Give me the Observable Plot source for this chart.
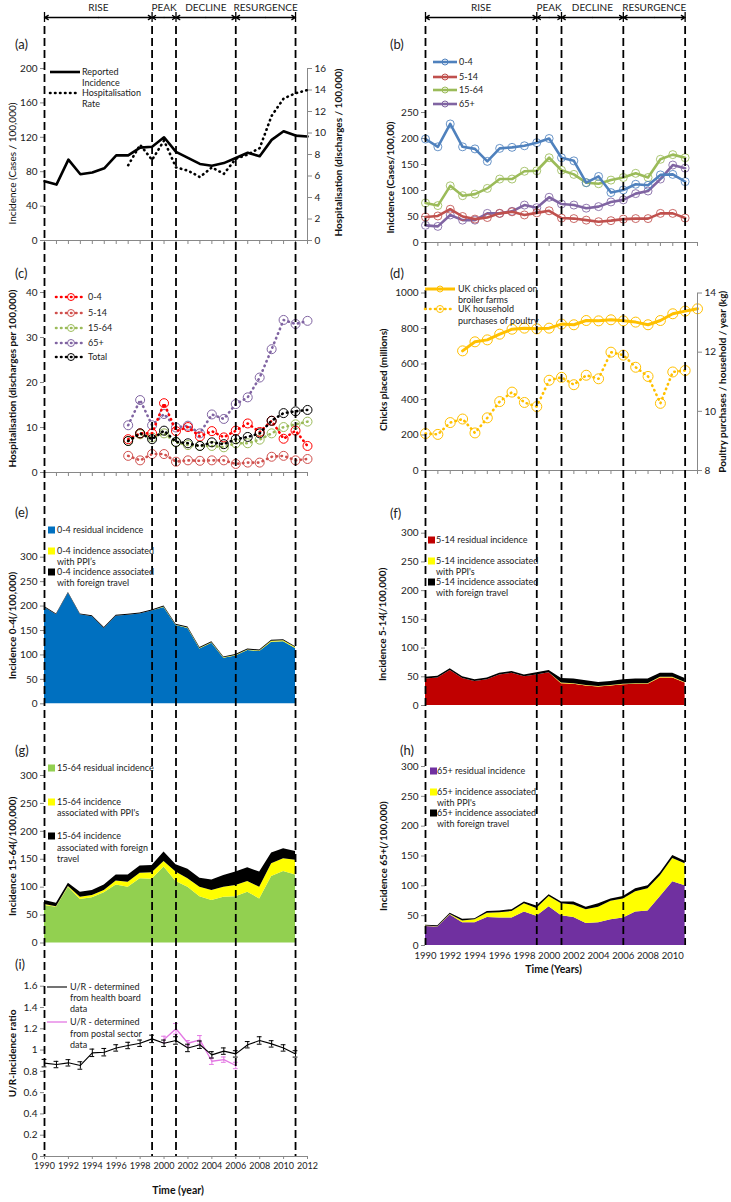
<!DOCTYPE html>
<html><head><meta charset="utf-8">
<script src="https://cdn.jsdelivr.net/npm/d3@7"></script>
<script src="https://cdn.jsdelivr.net/npm/@observablehq/plot@0.6"></script>
<style>
body{margin:0;background:#fff;}
#page{position:relative;width:731px;height:1202px;overflow:hidden;font-family:Lato,sans-serif;background:#fff;}
.layer{position:absolute;}
.layer svg{display:block;max-width:none;}
</style></head><body><div id="page"></div>
<script>
// ---------------- DATA ----------------
const phaseNames = ["RISE","PEAK","DECLINE","RESURGENCE"];
const phaseStart = [1990,1999,2001,2006];
const phaseEnd   = [1999,2001,2006,2011];
const phaseBounds = [1990,1999,2001,2006,2011];

const yearTicks = [1990,1991,1992,1993,1994,1995,1996,1997,1998,1999,2000,2001,2002,2003,2004,2005,2006,2007,2008,2009,2010,2011,2012];
const yearLabelTicksI = [1990,1992,1994,1996,1998,2000,2002,2004,2006,2008,2010,2012];
const yearLabelTicksH = [1990,1992,1994,1996,1998,2000,2002,2004,2006,2008,2010];

// (a)
const yearsA = [1990,1991,1992,1993,1994,1995,1996,1997,1998,1999,2000,2001,2002,2003,2004,2005,2006,2007,2008,2009,2010,2011,2012];
const reportedIncidence = [69,65,94,77,79,84,99,99,108,109,120,103,96,89,87,90,96,102,98,117,127,122,121];
const hospYears = [1997,1998,1999,2000,2001,2002,2003,2004,2005,2006,2007,2008,2009,2010,2011,2012];
const hospitalisationRate = [7.0,8.9,7.5,9.3,6.8,6.5,5.9,6.8,6.2,7.6,8.0,8.6,11.6,13.2,13.7,14.0];

// (b) age-specific incidence, 1990-2011
const yearsB = [1990,1991,1992,1993,1994,1995,1996,1997,1998,1999,2000,2001,2002,2003,2004,2005,2006,2007,2008,2009,2010,2011];
const inc0to4   = [199,184,228,184,180,156,181,183,186,192,200,163,157,115,127,96,101,112,110,130,131,117];
const inc5to14  = [49,51,64,50,45,48,56,59,53,57,61,47,46,43,40,42,45,46,46,56,56,47];
const inc15to64 = [76,71,109,90,93,104,122,122,137,138,163,139,131,115,113,120,125,133,125,160,169,163];
const inc65plus = [33,31,53,43,43,56,56,60,72,67,87,74,72,66,69,78,82,94,99,122,149,143];

// (c) hospitalisation by age, 1997-2012
const hosp0to4   = [7.4,8.7,8.7,15.4,9.2,10.1,8.0,9.2,7.8,9.3,10.9,9.0,11.5,7.5,9.3,5.9];
const hosp5to14  = [3.7,2.7,4.1,4.1,2.4,2.7,2.6,2.7,2.7,1.9,2.2,2.2,3.5,3.7,2.7,3.0];
const hosp15to64 = [7.0,8.5,7.8,8.7,6.7,6.1,5.9,5.9,5.6,6.5,6.5,7.3,8.7,10.1,10.7,11.3];
const hosp65plus = [10.5,16.1,10.5,13.0,10.0,10.4,8.7,12.9,11.9,15.2,16.7,21.1,27.4,33.9,33.0,33.7];
const hospTotal  = [7.0,8.7,7.4,9.3,6.8,6.5,5.9,6.7,6.3,7.4,7.9,8.7,11.5,13.2,13.6,13.9];

// (d)
const chicksYears = [1993,1994,1995,1996,1997,1998,1999,2000,2001,2002,2003,2004,2005,2006,2007,2008,2009,2010,2011,2012];
const chicksPlaced = [674,725,736,768,796,802,798,802,825,821,845,843,849,843,836,821,845,883,898,911];
const purchaseYears = [1990,1991,1992,1993,1994,1995,1996,1997,1998,1999,2000,2001,2002,2003,2004,2005,2006,2007,2008,2009,2010,2011];
const poultryPurchases = [9.25,9.22,9.62,9.74,9.27,9.78,10.33,10.65,10.30,10.16,11.05,11.15,10.90,11.22,11.10,12.00,11.90,11.49,11.18,10.27,11.33,11.38];

// (e)-(h) stacked components, 1990-2011
const residual0to4 = [197,182,226,182,178,154,179,181,184,190,197,160,154,112,124,93,98,109,107,126,127,113];
const ppi0to4      = [0,0,0,0,0,0,0,0,0,0,1,1,1,1,1,1,1,1,1,2,2,2];
const travel0to4   = [2,2,2,2,2,2,2,2,2,2,2,2,2,2,2,2,2,2,2,2,2,2];

const residual5to14 = [46,48,61,47,42,45,53,56,50,53,57,38,37,34,32,34,36,37,37,48,48,39];
const ppi5to14      = [0,0,0,0,0,0,0,0,0,0,0,1,1,1,1,1,1,1,1,1,1,1];
const travel5to14   = [3,3,3,3,3,3,3,3,3,4,4,8,8,8,7,7,8,8,8,7,7,7];

const residual15to64 = [67,64,100,78,81,90,104,100,115,114,136,110,100,83,76,82,83,91,79,119,128,122];
const ppi15to64      = [2,1,1,4,4,4,7,9,10,12,10,17,15,17,18,18,20,19,21,23,23,26];
const travel15to64   = [7,6,6,9,9,10,11,13,13,13,17,13,17,16,19,21,24,25,27,19,18,16];

const residual65plus = [32,31,51,38,38,47,46,46,56,49,65,50,47,37,38,43,46,56,58,82,107,100];
const ppi65plus      = [0.5,0.5,1,3,5,7,9,11,14,13,17,20,21,23,26,31,32,34,37,35,39,37];
const travel65plus   = [1.5,1.5,2,3,2,3,3,3,3,4,3,3,5,4,6,4,4,5,5,5,5,4];

// (i) U/R incidence ratio
const urYearsHB = [1990,1991,1992,1993,1994,1995,1996,1997,1998,1999,2000,2001,2002,2003,2004,2005,2006,2007,2008,2009,2010,2011];
const urHealthBoard = [0.877,0.864,0.880,0.855,0.974,0.980,1.020,1.043,1.064,1.105,1.064,1.090,1.020,1.050,0.955,0.990,0.964,1.050,1.090,1.058,1.020,0.964];
const errHealthBoard = [0.035,0.03,0.03,0.035,0.035,0.035,0.03,0.03,0.03,0.035,0.03,0.035,0.035,0.035,0.03,0.03,0.03,0.03,0.035,0.03,0.03,0.03];
const urYearsPS = [2000,2001,2002,2003,2004,2005,2006];
const urPostal = [1.100,1.200,1.064,1.096,0.895,0.910,0.855];
const errPostal = [0.03,0.05,0.025,0.04,0.03,0.025,0.03];

// tick values
const ticksA = [0,40,80,120,160,200];
const ticksAHosp = [0,2,4,6,8,10,12,14,16];
const ticksB = [0,50,100,150,200,250];
const ticksC = [0,10,20,30,40];
const ticksDChicks = [0,200,400,600,800,1000];
const ticksDPurch = [8,10,12,14];
const ticksArea = [0,50,100,150,200,250,300];
const ticksI = [0,0.2,0.4,0.6,0.8,1,1.2,1.4,1.6];

// ---------------- HELPERS ----------------
const page = document.getElementById("page");
function place(node, left, top, z) {
  const d = document.createElement("div");
  d.className = "layer";
  d.style.left = left + "px"; d.style.top = top + "px"; d.style.zIndex = z || 1;
  d.appendChild(node); page.appendChild(d);
}
const rows = (xs, ys) => xs.map((x, i) => ({year: x, value: ys[i]}));
const FONT = "Lato, sans-serif";
const baseStyle = {background: "transparent", fontFamily: FONT, fontSize: "10px", color: "#222", overflow: "visible"};
const LEFT = {left: 0, width: 365, marginLeft: 44, marginRight: 58};
const RIGHT = {left: 365, width: 366, marginLeft: 60, marginRight: 34};
const XDOM = [1990, 2012];

function yAxis(ticks, opts) {
  return Plot.axisY(Object.assign({ticks, tickFormat: d => String(d), tickSize: 4, tickPadding: 3, label: null,
    stroke: "#888", fill: "#222", fontSize: 10}, opts || {}));
}
function yTitle(s, anchor, dx, dy, weight) {
  return Plot.text([s], {text: d => d, frameAnchor: anchor, rotate: -90, dx, dy: dy || 0,
    textAnchor: "middle", lineAnchor: "middle",
    fontWeight: weight || "bold", fontSize: 10, fill: "#111"});
}
function xTickAxis() {
  return [Plot.ruleY([0], {stroke: "#888"}),
    Plot.axisX({ticks: yearTicks, tickFormat: () => "", tickSize: 4, stroke: "#888", label: null})];
}
function mk(col, top, height, mt, mb, y, marks, xAxisOff) {
  const p = Plot.plot({
    width: col.width, height, marginLeft: col.marginLeft, marginRight: col.marginRight,
    marginTop: mt, marginBottom: mb, style: baseStyle,
    x: xAxisOff ? {domain: XDOM, axis: null} : {domain: XDOM, label: null},
    y: Object.assign({label: null}, y), marks
  });
  place(p, col.left, top, 1);
}
const dotted = (color, w) => ({stroke: color, strokeWidth: w || 2.5, strokeDasharray: "0.5,4.5", strokeLinecap: "round"});

// ---------------- HEADERS & PHASE LINES ----------------
const phases = phaseNames.map((n, i) => ({name: n, start: phaseStart[i], end: phaseEnd[i], mid: (phaseStart[i] + phaseEnd[i]) / 2}));
[LEFT, RIGHT].forEach((col, ci) => {
  const header = Plot.plot({
    width: col.width, height: 27, marginLeft: col.marginLeft, marginRight: col.marginRight,
    marginTop: 7, marginBottom: 10, style: baseStyle,
    x: {domain: XDOM, axis: null}, y: {domain: [0, 1], axis: null},
    marks: [
      Plot.text(phases, {x: "mid", y: 1, text: "name", fontSize: 10, fill: "#222"}),
      Plot.arrow(phases, {x1: "mid", x2: "start", y1: 0, y2: 0, headLength: 5, strokeWidth: 1.3, stroke: "#000"}),
      Plot.arrow(phases, {x1: "mid", x2: "end", y1: 0, y2: 0, headLength: 5, strokeWidth: 1.3, stroke: "#000"}),
      Plot.ruleX(phaseBounds, {y1: -0.5, y2: 0.5, stroke: "#000", strokeWidth: 1.3})
    ]
  });
  place(header, col.left, 0, 2);
  const bottom = ci === 0 ? 1156 : 945;
  const lines = Plot.plot({
    width: col.width, height: bottom - 26, marginLeft: col.marginLeft, marginRight: col.marginRight,
    marginTop: 0, marginBottom: 0, style: baseStyle,
    x: {domain: XDOM, axis: null},
    marks: [Plot.ruleX(phaseBounds, {stroke: "#000", strokeWidth: 1.8, strokeDasharray: "8,4"})]
  });
  place(lines, col.left, 26, 2);
});

// ---------------- (a) ----------------
mk(LEFT, 50, 200, 18, 10, {domain: [0, 200]}, [
  ...xTickAxis(), yAxis(ticksA),
  Plot.line(rows(yearsA, reportedIncidence), {x: "year", y: "value", stroke: "#000", strokeWidth: 2.6}),
  yTitle("Incidence (Cases / 100,000)", "left", -32, 9, "normal")
]);
mk(LEFT, 50, 200, 18, 10, {domain: [0, 16]}, [
  Plot.ruleX([2012], {stroke: "#888"}),
  yAxis(ticksAHosp, {anchor: "right"}),
  Plot.line(rows(hospYears, hospitalisationRate), {x: "year", y: "value", ...dotted("#000", 2.6)}),
  yTitle("Hospitalisation (discharges / 100,000)", "right", 31, -2)
], true);

// ---------------- (b) ----------------
const bSeries = [
  {name: "65+", values: inc65plus, color: "#8064A2"},
  {name: "5-14", values: inc5to14, color: "#C0504D"},
  {name: "15-64", values: inc15to64, color: "#9BBB59"},
  {name: "0-4", values: inc0to4, color: "#4F81BD"}
];
const bMarks = [...xTickAxis(), yAxis(ticksB)];
bSeries.forEach(s => {
  const d = rows(yearsB, s.values);
  bMarks.push(Plot.line(d, {x: "year", y: "value", stroke: s.color, strokeWidth: 2.6}));
  bMarks.push(Plot.dot(d, {x: "year", y: "value", r: 4, stroke: s.color, strokeWidth: 1, fill: "none", strokeOpacity: 0.85}));
});
bMarks.push(yTitle("Inicdence (Cases/100,00)", "left", -35, 0));
mk(RIGHT, 100, 150, 12, 8, {domain: [0, 250]}, bMarks);

// ---------------- (c) ----------------
const cSeries = [
  {name: "65+", values: hosp65plus, color: "#8064A2"},
  {name: "15-64", values: hosp15to64, color: "#9BBB59"},
  {name: "5-14", values: hosp5to14, color: "#D0504D"},
  {name: "0-4", values: hosp0to4, color: "#FF0000"},
  {name: "Total", values: hospTotal, color: "#000000"}
];
const cMarks = [...xTickAxis(), yAxis(ticksC)];
cSeries.forEach(s => {
  const d = rows(hospYears, s.values);
  cMarks.push(Plot.line(d, {x: "year", y: "value", ...dotted(s.color, 2.6)}));
  cMarks.push(Plot.dot(d, {x: "year", y: "value", r: 4.5, stroke: s.color, strokeWidth: 1, fill: "none"}));
});
cMarks.push(yTitle("Hospitalisation (discharges per 100,000)", "left", -32, -4));
mk(LEFT, 280, 200, 12, 8, {domain: [0, 40]}, cMarks);

// ---------------- (d) ----------------
const gold = "#FFC000";
mk(RIGHT, 280, 200, 12.5, 10, {domain: [0, 1000]}, [
  ...xTickAxis(), yAxis(ticksDChicks),
  Plot.line(rows(chicksYears, chicksPlaced), {x: "year", y: "value", stroke: gold, strokeWidth: 3}),
  Plot.dot(rows(chicksYears, chicksPlaced), {x: "year", y: "value", r: 5, stroke: gold, strokeWidth: 1, fill: "none"}),
  yTitle("Chicks placed (millions)", "left", -42, -2)
]);
mk(RIGHT, 280, 200, 12.5, 10, {domain: [8, 14]}, [
  Plot.ruleX([2012], {stroke: "#888"}),
  yAxis(ticksDPurch, {anchor: "right"}),
  Plot.line(rows(purchaseYears, poultryPurchases), {x: "year", y: "value", ...dotted(gold, 2.6)}),
  Plot.dot(rows(purchaseYears, poultryPurchases), {x: "year", y: "value", r: 5, stroke: gold, strokeWidth: 1, fill: "none"}),
  yTitle("Poultry purchases / household / year (kg)", "right", 25, 0)
], true);

// ---------------- (e)-(h) stacked areas ----------------
function areaMarks(residual, ppi, travel) {
  const data = [];
  yearsB.forEach((y, i) => {
    data.push({year: y, part: "residual", value: residual[i]});
    data.push({year: y, part: "ppi", value: ppi[i]});
    data.push({year: y, part: "travel", value: travel[i]});
  });
  return Plot.areaY(data, {x: "year", y: "value", fill: "part", order: ["residual", "ppi", "travel"]});
}
function areaPlot(col, top, height, mt, mb, residual, ppi, travel, color, title, tdx, tdy, extra) {
  const p = Plot.plot({
    width: col.width, height, marginLeft: col.marginLeft, marginRight: col.marginRight,
    marginTop: mt, marginBottom: mb, style: baseStyle,
    x: extra ? {domain: XDOM, label: null} : {domain: XDOM, axis: null},
    y: {domain: [0, 300], label: null},
    color: {domain: ["residual", "ppi", "travel"], range: [color, "#FFFF00", "#000000"]},
    marks: [areaMarks(residual, ppi, travel), yAxis(ticksArea), yTitle(title, "left", tdx, tdy)].concat(extra || [])
  });
  place(p, col.left, top, 1);
}
areaPlot(LEFT, 540, 170, 16.7, 6.7, residual0to4, ppi0to4, travel0to4, "#0070C0", "Incidence 0-4(/100,000)", -32, -5);
areaPlot(RIGHT, 520, 195, 12.7, 10, residual5to14, ppi5to14, travel5to14, "#C00000", "Incidence 5-14(/100,000)", -43, 5);
areaPlot(LEFT, 760, 190, 15, 7.5, residual15to64, ppi15to64, travel15to64, "#92D050", "Incidence 15-64(/100,000)", -32, -3);
areaPlot(RIGHT, 755, 230, 11, 40, residual65plus, ppi65plus, travel65plus, "#7030A0", "Incidence 65+(/100,000)", -42, 0, [
  Plot.axisX({ticks: yearLabelTicksH, tickFormat: "d", tickSize: 0, tickPadding: 7, label: null, fill: "#222", fontSize: 9.5}),
  Plot.text(["Time (Years)"], {text: d => d, frameAnchor: "bottom", dy: 27, dx: -8, fontWeight: "bold", fontSize: 10.5, fill: "#111"})
]);

// ---------------- (i) ----------------
const hb = urYearsHB.map((y, i) => ({year: y, value: urHealthBoard[i], err: errHealthBoard[i]}));
const ps = urYearsPS.map((y, i) => ({year: y, value: urPostal[i], err: errPostal[i]}));
const pink = "#E377E3";
function errMarks(d, color) {
  return [
    Plot.ruleX(d, {x: "year", y1: r => r.value - r.err, y2: r => r.value + r.err, stroke: color, strokeWidth: 1}),
    Plot.ruleY(d, {y: r => r.value + r.err, x1: r => r.year - 0.2, x2: r => r.year + 0.2, stroke: color, strokeWidth: 1}),
    Plot.ruleY(d, {y: r => r.value - r.err, x1: r => r.year - 0.2, x2: r => r.year + 0.2, stroke: color, strokeWidth: 1})
  ];
}
mk(LEFT, 975, 227, 10.7, 46, {domain: [0, 1.6]}, [
  Plot.ruleY([0], {stroke: "#888"}),
  Plot.axisX({ticks: yearLabelTicksI, tickFormat: "d", tickSize: 3, tickPadding: 3, stroke: "#888", fill: "#222", label: null, fontSize: 9}),
  yAxis(ticksI),
  Plot.line(ps, {x: "year", y: "value", stroke: pink, strokeWidth: 1.3}),
  ...errMarks(ps, pink),
  Plot.line(hb, {x: "year", y: "value", stroke: "#000", strokeWidth: 1.1}),
  ...errMarks(hb, "#000"),
  yTitle("U/R-incidence ratio", "left", -32, -18),
  Plot.text(["Time (year)"], {text: d => d, frameAnchor: "bottom", dy: 37, dx: 2, fontWeight: "bold", fontSize: 10.5, fill: "#111"})
]);

// ---------------- LEGENDS & PANEL LABELS ----------------
const ov = d3.create("svg").attr("width", 731).attr("height", 1202)
  .style("font-family", FONT).style("overflow", "visible");
function T(x, y, s, size) {
  ov.append("text").attr("x", x).attr("y", y).attr("dy", "0.35em")
    .attr("font-size", size || 9).attr("fill", "#222").text(s);
}
function Ln(x1, x2, y, color, w, dash) {
  const l = ov.append("line").attr("x1", x1).attr("x2", x2).attr("y1", y).attr("y2", y)
    .attr("stroke", color).attr("stroke-width", w);
  if (dash) l.attr("stroke-dasharray", "0.5,4.5").attr("stroke-linecap", "round");
}
function Ci(x, y, r, color) {
  ov.append("circle").attr("cx", x).attr("cy", y).attr("r", r).attr("fill", "none").attr("stroke", color).attr("stroke-width", 1);
}
function Sq(x, y, color) {
  ov.append("rect").attr("x", x).attr("y", y - 3.5).attr("width", 7).attr("height", 7).attr("fill", color);
}
// panel labels
[["(a)", 15, 44], ["(b)", 390, 44], ["(c)", 15, 273], ["(d)", 390, 273], ["(e)", 15, 512],
 ["(f)", 390, 513], ["(g)", 15, 750], ["(h)", 400, 750], ["(i)", 15, 964]].forEach(([s, x, y]) => T(x, y, s, 13));
// (a)
Ln(50, 80, 72, "#000", 2.6); T(82, 72, "Reported"); T(82, 83, "Incidence");
Ln(50, 80, 93, "#000", 2.6, true); T(82, 93, "Hospitalisation"); T(82, 104, "Rate");
// (b)
[["0-4", "#4F81BD", 62], ["5-14", "#C0504D", 77], ["15-64", "#9BBB59", 90], ["65+", "#8064A2", 104]].forEach(([s, c, y]) => {
  Ln(433, 457, y, c, 2.6); Ci(445, y, 3, c); T(459, y, s);
});
// (c)
[["0-4", "#FF0000", 297], ["5-14", "#D0504D", 313], ["15-64", "#9BBB59", 328], ["65+", "#8064A2", 343], ["Total", "#000", 357]].forEach(([s, c, y]) => {
  Ln(56, 82, y, c, 2.6, true); Ci(71, y, 3.5, c); T(88, y, s);
});
// (d)
Ln(425, 455, 289, gold, 3); Ci(440, 289, 3, gold); T(458, 289, "UK chicks placed on"); T(458, 300, "broiler farms");
Ln(425, 455, 309, gold, 2.6, true); Ci(440, 309, 3.5, gold); T(458, 309, "UK household"); T(458, 321, "purchases of poultry");
// (e)
Sq(48, 530, "#0070C0"); T(57, 530, "0-4 residual incidence");
Sq(48, 551, "#FFFF00"); T(57, 551, "0-4 incidence associated"); T(57, 561.5, "with PPI\u2019s");
Sq(48, 572, "#000"); T(57, 572, "0-4 incidence associated"); T(57, 583, "with foreign travel");
// (f)
Sq(428, 540, "#C00000"); T(436, 540, "5-14 residual incidence");
Sq(428, 561, "#FFFF00"); T(436, 561, "5-14 incidence associated"); T(436, 571.5, "with PPI's");
Sq(428, 582, "#000"); T(436, 582, "5-14 incidence associated"); T(436, 593, "with foreign travel");
// (g)
Sq(48, 768, "#92D050"); T(57, 768, "15-64 residual incidence");
Sq(48, 802, "#FFFF00"); T(57, 802, "15-64 incidence"); T(57, 813, "associated with PPI's");
Sq(48, 836, "#000"); T(57, 836, "15-64 incidence"); T(57, 848, "associated with foreign"); T(57, 859, "travel");
// (h)
Sq(430, 771, "#7030A0"); T(437, 771, "65+ residual incidence");
Sq(430, 792, "#FFFF00"); T(437, 792, "65+ incidence associated"); T(437, 802.5, "with PPI's");
Sq(430, 813, "#000"); T(437, 813, "65+ incidence associated"); T(437, 824, "with foreign travel");
// (i)
Ln(47, 67, 987, "#000", 1.1); T(70, 987, "U/R - determined"); T(70, 998, "from health board"); T(70, 1009, "data");
Ln(47, 67, 1022, pink, 1.3); T(70, 1022, "U/R - determined"); T(70, 1034, "from postal sector"); T(70, 1045, "data");
place(ov.node(), 0, 0, 3);
</script></body></html>
